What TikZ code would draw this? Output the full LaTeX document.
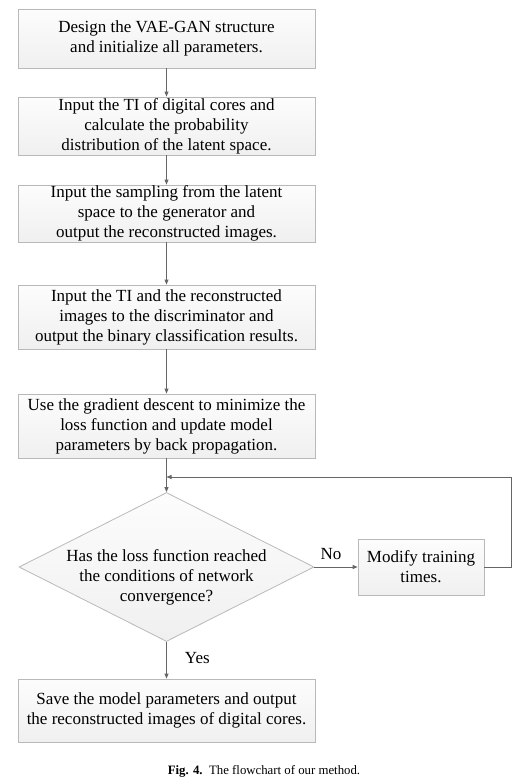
\documentclass[tikz,border=0pt]{standalone}
\usepackage{fontspec}
\setmainfont{Liberation Serif}
\usetikzlibrary{shapes.geometric,arrows.meta,shadows}
\begin{document}
\begin{tikzpicture}[x=1pt,y=-1pt,
  font=\fontsize{17}{20}\selectfont,
  stepbox/.style={draw=gray!55, line width=0.8pt, top color=gray!2, bottom color=gray!12,
    drop shadow={shadow xshift=1.2pt, shadow yshift=-1.2pt, opacity=0.25, fill=gray},
    minimum width=297pt, align=center, inner sep=0pt},
  decision/.style={draw=gray!55, line width=0.8pt, diamond, top color=gray!2, bottom color=gray!12,
    minimum width=295pt, minimum height=149pt, inner sep=0pt},
  conn/.style={draw=gray!80!black, line width=0.9pt, -{Triangle[length=5pt,width=4pt]}},
  line/.style={draw=gray!80!black, line width=0.9pt},
  lbl/.style={inner sep=0pt}]
\useasboundingbox (0,0) rectangle (520,783);
\node[stepbox, minimum height=59pt] (b1) at (166.5,38.5) {Design the VAE-GAN structure\\and initialize all parameters.};
\node[stepbox, minimum height=58pt] (b2) at (166.5,126) {Input the TI of digital cores and\\calculate the probability\\distribution of the latent space.};
\node[stepbox, minimum height=57pt] (b3) at (166.5,213.5) {Input the sampling from the latent\\space to the generator and\\output the reconstructed images.};
\node[stepbox, minimum height=64pt] (b4) at (166.5,317) {Input the TI and the reconstructed\\images to the discriminator and\\output the binary classification results.};
\node[stepbox, minimum height=64pt] (b5) at (166.5,426) {Use the gradient descent to minimize the\\loss function and update model\\parameters by back propagation.};
\node[decision] (d) at (166.5,567) {};
\node[align=center, inner sep=0pt] (dt) at (166.5,577) {Has the loss function reached\\the conditions of network\\convergence?};
\node[stepbox, minimum width=126pt, minimum height=56pt] (m) at (421,567) {Modify training\\times.};
\node[stepbox, minimum height=63pt] (b6) at (166.5,710.5) {Save the model parameters and output\\the reconstructed images of digital cores.};
\coordinate (j) at (166.5,477);
\coordinate (r) at (511,477);
\path[conn] (b1) -- (b2);
\path[conn] (b2) -- (b3);
\path[conn] (b3) -- (b4);
\path[conn] (b4) -- (b5);
\path[conn] (b5) -- (d);
\path[conn] (d) -- node[lbl, above=7pt, xshift=-5pt] (no) {No} (m);
\path[conn] (d) -- node[lbl, pos=0.45, right=18pt] (yes) {Yes} (b6);
\path[line] (m.east) -- (r |- m.east) -- (r);
\path[conn] (r) -- (j);
\node[font=\fontsize{12.8}{15}\selectfont, inner sep=0pt] (cap) at (264,771) {\textbf{Fig. 4.}\enspace The flowchart of our method.};
\end{tikzpicture}
\end{document}
